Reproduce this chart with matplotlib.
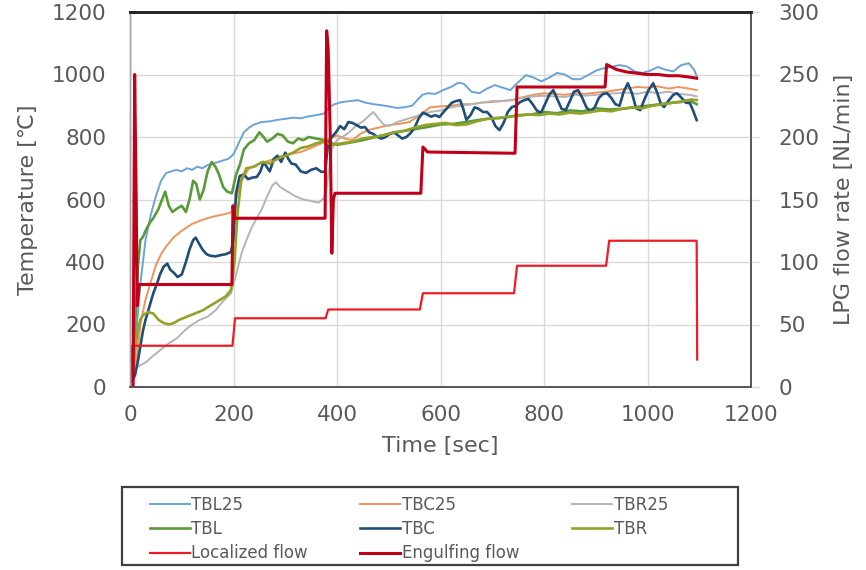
import matplotlib
matplotlib.use("Agg")
import matplotlib.pyplot as plt
from matplotlib.patches import Rectangle

# ---------------- data ----------------
tbl25_t = [0, 8, 12, 20, 30, 40, 50, 60, 70, 80, 90, 100, 110, 120, 130, 140, 150, 160, 170, 180, 190,
           200, 210, 220, 230, 240, 255, 270, 285, 300, 315, 330, 345, 360, 375, 385, 395, 410, 425, 440,
           455, 470, 485, 500, 515, 530, 545, 555, 565, 575, 590, 605, 620, 635, 645, 660, 675, 690, 705,
           720, 735, 750, 765, 780, 795, 810, 825, 840, 855, 870, 885, 900, 915, 930, 945, 960, 975, 990,
           1005, 1020, 1035, 1050, 1065, 1080, 1090, 1095]
tbl25_v = [30, 60, 170, 330, 470, 550, 610, 660, 685, 690, 695, 690, 700, 695, 705, 700, 710, 715, 720, 725, 730,
           745, 780, 815, 830, 840, 848, 850, 855, 858, 862, 860, 866, 870, 875, 895, 905, 912, 915, 918,
           910, 905, 902, 898, 893, 895, 900, 918, 935, 940, 938, 950, 960, 974, 970, 945, 940, 955, 966,
           958, 950, 975, 998, 990, 978, 990, 1005, 1000, 985, 985, 998, 1012, 1020, 1024, 1030, 1026, 1010, 1005,
           1012, 1024, 1015, 1010, 1030, 1036, 1015, 995]

tbc25_t = [0, 8, 15, 20, 30, 40, 50, 60, 70, 85, 100, 120, 140, 160, 180, 195, 205, 215, 230, 250, 270, 290,
           310, 330, 350, 370, 385, 400, 415, 430, 445, 460, 480, 500, 520, 540, 560, 580, 600, 620, 640, 660,
           680, 700, 720, 740, 760, 780, 800, 820, 840, 860, 880, 900, 920, 940, 960, 980, 1000, 1020, 1040,
           1060, 1080, 1095]
tbc25_v = [30, 40, 120, 200, 280, 335, 390, 425, 450, 480, 500, 522, 535, 545, 552, 558, 600, 660, 700, 715, 725,
           738, 745, 752, 765, 780, 795, 805, 795, 790, 810, 822, 830, 838, 842, 848, 870, 895, 898, 900, 905,
           905, 910, 912, 915, 918, 928, 935, 940, 938, 935, 940, 938, 942, 945, 950, 955, 960, 958, 962, 955,
           960, 955, 950]

tbr25_t = [0, 10, 20, 30, 45, 60, 75, 90, 105, 120, 135, 150, 165, 180, 195, 205, 215, 225, 235, 245, 255, 265,
           275, 282, 290, 300, 310, 320, 335, 350, 365, 375, 380, 390, 400, 410, 420, 430, 440, 450, 460, 470,
           480, 490, 500, 520, 540, 560, 580, 600, 620, 640, 660, 680, 700, 720, 740, 760, 780, 800, 820, 840,
           860, 880, 900, 920, 940, 960, 980, 1000, 1020, 1040, 1060, 1080, 1095]
tbr25_v = [40, 60, 70, 78, 100, 120, 140, 155, 180, 200, 215, 225, 245, 275, 300, 360, 425, 470, 510, 540, 570, 610,
           645, 655, 640, 630, 620, 610, 600, 595, 590, 605, 640, 760, 790, 800, 810, 825, 840, 850, 865, 880,
           860, 840, 835, 850, 860, 870, 880, 885, 895, 900, 905, 910, 915, 915, 920, 925, 930, 932, 930, 928,
           935, 932, 935, 938, 940, 942, 938, 945, 940, 945, 938, 935, 930]

tbl_t = [0, 5, 10, 15, 20, 25, 30, 38, 45, 55, 62, 68, 75, 82, 90, 100, 108, 115, 122, 128, 135, 142, 150, 158,
         165, 172, 180, 188, 197, 205, 212, 220, 230, 240, 250, 258, 265, 275, 285, 295, 305, 315, 325, 335, 345,
         360, 375, 390, 400, 425, 450, 475, 500, 525, 550, 575, 600, 625, 650, 675, 700, 725, 750, 775, 800, 825,
         850, 875, 900, 925, 950, 975, 1000, 1025, 1050, 1065, 1080, 1095]
tbl_v = [30, 60, 200, 380, 470, 480, 500, 525, 540, 570, 600, 625, 580, 560, 570, 580, 560, 600, 660, 650, 600, 630,
         690, 720, 705, 680, 640, 625, 620, 680, 710, 760, 780, 790, 815, 800, 785, 795, 810, 805, 785, 780, 795,
         790, 800, 795, 790, 780, 775, 782, 790, 800, 810, 818, 825, 832, 840, 842, 848, 855, 860, 862, 870, 872,
         880, 876, 885, 882, 892, 888, 890, 895, 900, 905, 910, 912, 918, 905]

tbc_t = [0, 5, 10, 15, 20, 25, 30, 38, 45, 52, 58, 65, 72, 78, 85, 92, 100, 108, 115, 122, 127, 133, 140, 148,
         155, 165, 175, 185, 195, 200, 205, 212, 220, 228, 236, 245, 252, 258, 264, 270, 278, 285, 292, 300, 306,
         312, 320, 330, 340, 350, 360, 370, 377, 383, 390, 398, 406, 414, 422, 430, 438, 446, 454, 462, 470, 478,
         486, 494, 502, 510, 518, 526, 534, 542, 550, 558, 566, 574, 582, 590, 598, 606, 614, 622, 630, 638, 644,
         650, 658, 666, 674, 682, 690, 698, 706, 714, 722, 730, 738, 746, 754, 762, 770, 778, 786, 794, 802, 810,
         818, 826, 834, 842, 850, 858, 866, 874, 882, 890, 898, 906, 914, 922, 930, 938, 946, 954, 962, 970, 978,
         986, 994, 1002, 1011, 1018, 1026, 1032, 1040, 1050, 1057, 1066, 1074, 1082, 1088, 1095]
tbc_v = [20, 20, 40, 80, 130, 180, 215, 260, 300, 330, 360, 385, 395, 375, 365, 352, 360, 400, 440, 470, 478, 460,
         440, 425, 420, 418, 422, 425, 432, 470, 620, 675, 680, 665, 670, 672, 690, 720, 705, 690, 730, 740, 720,
         750, 730, 715, 712, 690, 685, 695, 700, 688, 690, 780, 800, 815, 835, 825, 848, 845, 838, 830, 832, 815,
         810, 800, 795, 800, 810, 815, 805, 795, 800, 812, 830, 860, 878, 872, 865, 870, 864, 880, 895, 910, 915,
         918, 890, 855, 870, 895, 890, 880, 880, 865, 835, 822, 845, 880, 896, 900, 912, 918, 922, 905, 885, 877,
         905, 935, 950, 920, 890, 886, 915, 945, 950, 925, 895, 880, 895, 925, 938, 940, 925, 905, 900, 945, 972,
         940, 892, 886, 920, 950, 972, 945, 905, 896, 915, 935, 940, 925, 910, 908, 885, 854]

tbr_t = [0, 5, 10, 15, 20, 25, 35, 45, 55, 65, 75, 85, 95, 110, 125, 140, 155, 170, 185, 195, 202, 208, 215, 225,
         240, 255, 270, 285, 300, 315, 330, 345, 360, 375, 390, 410, 430, 450, 470, 490, 510, 530, 550, 570, 590,
         610, 630, 650, 670, 690, 710, 730, 750, 770, 790, 810, 830, 850, 870, 890, 910, 930, 950, 970, 990, 1010,
         1030, 1050, 1070, 1085, 1095]
tbr_v = [30, 50, 120, 180, 215, 230, 240, 235, 215, 205, 200, 205, 215, 225, 235, 245, 260, 275, 290, 310, 400, 560,
         660, 700, 705, 720, 715, 730, 740, 750, 765, 770, 780, 785, 775, 780, 785, 795, 800, 805, 815, 820, 830,
         838, 842, 845, 838, 840, 850, 858, 860, 865, 868, 872, 870, 875, 872, 878, 875, 880, 885, 882, 890, 895,
         892, 900, 905, 910, 915, 920, 918]

loc_t = [0, 4, 198, 203, 378, 383, 560, 566, 742, 748, 920, 926, 1095, 1096]
loc_v = [0, 33, 33, 55, 55, 62, 62, 75, 75, 97, 97, 117, 117, 22]

eng_t = [0, 6, 9, 12, 14, 18, 197, 199, 202, 377, 380, 383, 387, 390, 393, 396, 562, 566, 575, 744, 748, 918,
         921, 940, 960, 980, 1000, 1020, 1040, 1060, 1080, 1095]
eng_v = [0, 0, 250, 150, 65, 82, 82, 145, 135, 135, 285, 270, 200, 107, 150, 155, 155, 192, 188, 187, 240, 240,
         258, 254, 252, 251, 250, 250, 249, 249, 248, 247]

temp_ticks = [0, 200, 400, 600, 800, 1000, 1200]
flow_ticks = [0, 50, 100, 150, 200, 250, 300]
time_ticks = [0, 200, 400, 600, 800, 1000, 1200]

# ---------------- figure ----------------
W, H = 866, 570
fig = plt.figure(figsize=(W / 100, H / 100), dpi=100)
ax = fig.add_axes([130 / W, 1 - 387 / H, (751 - 130) / W, (387 - 12) / H])
ax2 = ax.twinx()

txt = "#595959"
grid = "#d9d9d9"

l1, = ax.plot(tbl25_t, tbl25_v, color="#6aa3d8", lw=1.4, label="TBL25")
l2, = ax.plot(tbc25_t, tbc25_v, color="#f0935a", lw=1.4, label="TBC25")
l3, = ax.plot(tbr25_t, tbr25_v, color="#b4b4b4", lw=1.4, label="TBR25")
l4, = ax.plot(tbl_t, tbl_v, color="#5a9a3a", lw=1.9, label="TBL")
l5, = ax.plot(tbc_t, tbc_v, color="#1f4e79", lw=1.9, label="TBC")
l6, = ax.plot(tbr_t, tbr_v, color="#94a227", lw=1.9, label="TBR")
l7, = ax2.plot(loc_t, loc_v, color="#ee1c25", lw=1.6, label="Localized flow")
l8, = ax2.plot(eng_t, eng_v, color="#c00018", lw=2.2, label="Engulfing flow")

ax.set_xlim(0, 1200)
ax.set_ylim(0, 1200)
ax2.set_ylim(0, 300)
ax.set_xticks(time_ticks)
ax.set_yticks(temp_ticks)
ax2.set_yticks(flow_ticks)

ax.grid(True, color=grid, lw=1)
ax.set_axisbelow(True)

ax.tick_params(axis="y", length=0, pad=17, labelsize=15.5, labelcolor=txt)
ax.tick_params(axis="x", length=0, pad=13, labelsize=15.5, labelcolor=txt)
ax2.tick_params(axis="y", length=6, width=1, color=grid, pad=14, labelsize=15.5, labelcolor=txt)

for a in (ax, ax2):
    a.spines["top"].set_color("#262626")
    a.spines["top"].set_linewidth(2)
    a.spines["right"].set_color("#595959")
    a.spines["right"].set_linewidth(1.3)
    a.spines["bottom"].set_color("#595959")
    a.spines["bottom"].set_linewidth(1.3)
    a.spines["left"].set_color("#a6a6a6")
    a.spines["left"].set_linewidth(1.0)

ax.set_xlabel("Time [sec]", fontsize=16, color=txt, labelpad=8)
ax.set_ylabel("Temperature [℃]", fontsize=16, color=txt, labelpad=10)
ax2.set_ylabel("LPG flow rate [NL/min]", fontsize=16, color=txt, labelpad=10)

handles = [l1, l4, l7, l2, l5, l8, l3, l6]
leg = fig.legend(handles=handles, labels=[h.get_label() for h in handles], ncol=3,
                 loc="upper left", bbox_to_anchor=(138 / W, 1 - 484 / H),
                 frameon=False, fontsize=12, handlelength=2.4, handletextpad=0.1,
                 columnspacing=3.15, labelspacing=0.38, borderpad=0.2)
for t in leg.get_texts():
    t.set_color(txt)

fig.patches.append(Rectangle((122 / W, 1 - 565 / H), (738 - 122) / W, (565 - 487) / H,
                             transform=fig.transFigure, fill=False, edgecolor="#404040", lw=1.6))

fig.savefig("out.png", dpi=100)
